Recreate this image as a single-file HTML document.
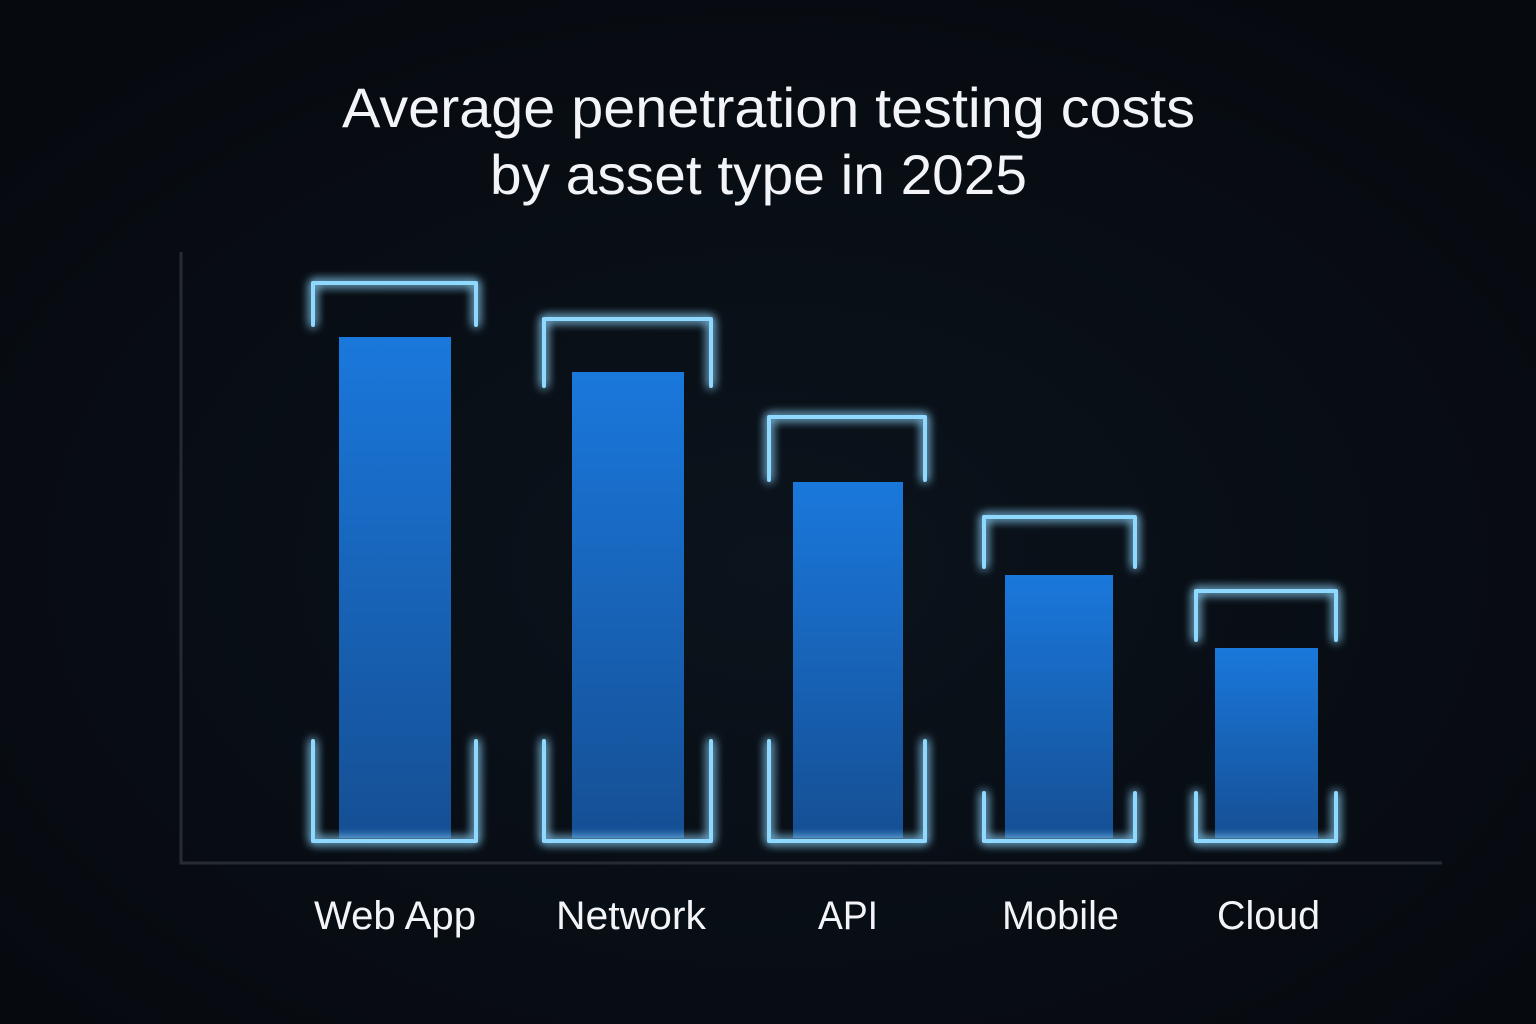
<!DOCTYPE html>
<html><head><style>
html,body{margin:0;padding:0;background:#070a10;}
svg{display:block}
</style></head><body>
<svg width="1536" height="1024" viewBox="0 0 1536 1024" xmlns="http://www.w3.org/2000/svg">
<defs>
<radialGradient id="bg" cx="0.5" cy="0.55" r="0.7">
<stop offset="0" stop-color="#0b131c"/><stop offset="1" stop-color="#06090e"/>
</radialGradient>
<linearGradient id="bar" x1="0" y1="0" x2="0" y2="1">
<stop offset="0" stop-color="#1a78dc"/><stop offset="1" stop-color="#154f94"/>
</linearGradient>
<filter id="glow" x="-20%" y="-20%" width="140%" height="140%">
<feGaussianBlur stdDeviation="5" result="b"/>
<feMerge><feMergeNode in="b"/><feMergeNode in="b"/><feMergeNode in="SourceGraphic"/></feMerge>
</filter>
</defs>
<rect width="1536" height="1024" fill="url(#bg)"/>
<g font-family="Liberation Sans, sans-serif" fill="#f2f4f7" font-size="56">
<text x="342" y="127" textLength="853" lengthAdjust="spacingAndGlyphs">Average penetration testing costs</text>
<text x="490" y="194" textLength="537" lengthAdjust="spacingAndGlyphs">by asset type in 2025</text>
</g>
<path d="M181 252 V863 H1442" stroke="#262b33" stroke-width="3" fill="none"/>
<g fill="url(#bar)">
<rect x="339" y="337" width="112" height="501"/>
<rect x="572" y="372" width="112" height="466"/>
<rect x="793" y="482" width="110" height="356"/>
<rect x="1005" y="575" width="108" height="263"/>
<rect x="1215" y="648" width="103" height="190"/>
</g>
<g stroke="#8fd8ff" stroke-width="4" fill="none" stroke-linejoin="round" stroke-linecap="round" filter="url(#glow)">
<path d="M313 325 V283 H476 V325"/><path d="M313 741 V841 H476 V741"/>
<path d="M544 386 V319 H711 V386"/><path d="M544 741 V841 H711 V741"/>
<path d="M769 480 V417 H925 V480"/><path d="M769 741 V841 H925 V741"/>
<path d="M984 567 V517 H1135 V567"/><path d="M984 793 V841 H1135 V793"/>
<path d="M1196 640 V591 H1336 V640"/><path d="M1196 793 V841 H1336 V793"/>
</g>
<g font-family="Liberation Sans, sans-serif" fill="#f2f4f7" font-size="40">
<text x="314" y="929" textLength="162" lengthAdjust="spacingAndGlyphs">Web App</text>
<text x="556" y="929" textLength="150" lengthAdjust="spacingAndGlyphs">Network</text>
<text x="818" y="929" textLength="60" lengthAdjust="spacingAndGlyphs">API</text>
<text x="1002" y="929" textLength="117" lengthAdjust="spacingAndGlyphs">Mobile</text>
<text x="1217" y="929" textLength="103" lengthAdjust="spacingAndGlyphs">Cloud</text>
</g>
</svg>
</body></html>
